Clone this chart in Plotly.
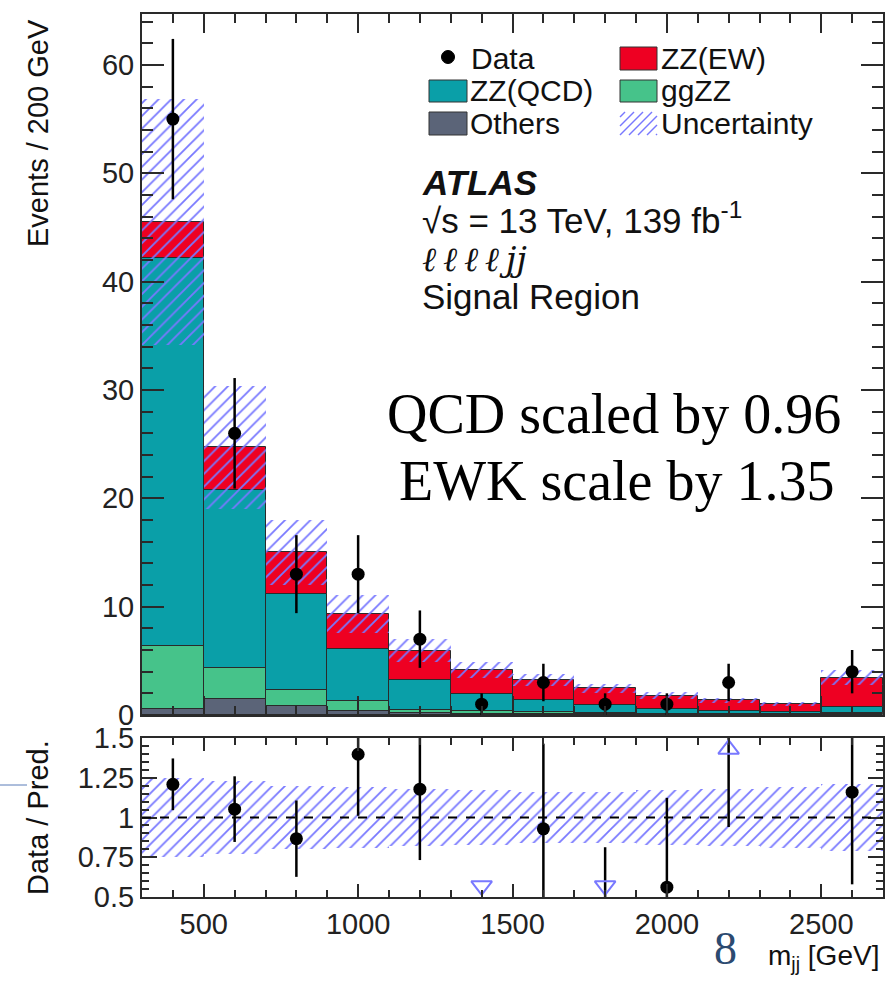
import numpy as np
import plotly.graph_objects as go

# ---------------- data ----------------
mjj_centers = [400, 600, 800, 1000, 1200, 1400, 1600, 1800, 2000, 2200, 2400, 2600]
bin_width = 200
others = [0.55, 1.45, 0.85, 0.40, 0.15, 0.10, 0.08, 0.05, 0.04, 0.03, 0.02, 0.05]
ggzz = [5.85, 2.85, 1.45, 0.86, 0.35, 0.25, 0.20, 0.12, 0.08, 0.05, 0.04, 0.10]
zz_qcd = [35.8, 16.5, 8.9, 4.8, 2.73, 1.60, 1.10, 0.75, 0.43, 0.32, 0.24, 0.62]
zz_ew = [3.3, 3.9, 3.8, 3.24, 2.71, 2.20, 1.85, 1.54, 1.23, 0.95, 0.68, 2.68]
unc_rel = [0.25, 0.23, 0.20, 0.19, 0.18, 0.17, 0.16, 0.16, 0.17, 0.18, 0.19, 0.21]
data = [55, 26, 13, 13, 7, 1, 3, 1, 1, 3, None, 4]
data_err = [7.4, 5.1, 3.6, 3.6, 2.65, 1.0, 1.73, 1.0, 1.0, 1.73, None, 2.0]

x_ticks_ratio = [500, 1000, 1500, 2000, 2500]
ratio_tickvals = [0.5, 0.75, 1.0, 1.25, 1.5]
ratio_ticktext = ["0.5", "0.75", "1", "1.25", "1.5"]

# ---------------- styling ----------------
W, H = 886, 983
C_EW = "#ee0022"
C_QCD = "#0a9fa8"
C_GG = "#46c38a"
C_OTH = "#5b6478"
C_HATCH = "#7878ff"
EDGE = "#2a2a2a"
SANS = "Liberation Sans, Arial, sans-serif"
SERIF = "Liberation Serif, Times New Roman, serif"
TICKSIZE = 29


def px(x):
    return x / W


def py(y):
    return 1 - y / H


o = np.array(others)
g = np.array(ggzz)
q = np.array(zz_qcd)
e = np.array(zz_ew)
total = o + g + q + e
rel = np.array(unc_rel)
unc = total * rel

fig = go.Figure()

# stacked components (overlay with explicit bases)
layers = [
    ("Others", o, np.zeros_like(o), C_OTH),
    ("ggZZ", g, o, C_GG),
    ("ZZ(QCD)", q, o + g, C_QCD),
    ("ZZ(EW)", e, o + g + q, C_EW),
]
for name, h, b, col in layers:
    fig.add_trace(go.Bar(
        x=mjj_centers, y=h, base=b, width=bin_width, name=name,
        marker=dict(color=col, line=dict(color=EDGE, width=1)),
        showlegend=False, xaxis="x", yaxis="y",
    ))

hatch = dict(shape="/", fgcolor=C_HATCH, bgcolor="rgba(0,0,0,0)",
             size=9, solidity=0.2, fillmode="replace")

# uncertainty hatch, top panel
fig.add_trace(go.Bar(
    x=mjj_centers, y=2 * unc, base=total - unc, width=bin_width,
    marker=dict(color="rgba(0,0,0,0)", line=dict(width=0), pattern=hatch),
    showlegend=False, xaxis="x", yaxis="y",
))

# data points
dx = [c for c, d in zip(mjj_centers, data) if d is not None]
dy = [d for d in data if d is not None]
de = [s for s, d in zip(data_err, data) if d is not None]
fig.add_trace(go.Scatter(
    x=dx, y=dy, mode="markers",
    marker=dict(color="black", size=13),
    error_y=dict(type="data", array=de, arrayminus=de, thickness=2.5, width=0, color="black"),
    showlegend=False, xaxis="x", yaxis="y",
))

# ratio band
fig.add_trace(go.Bar(
    x=mjj_centers, y=2 * rel, base=1 - rel, width=bin_width,
    marker=dict(color="rgba(0,0,0,0)", line=dict(width=0), pattern=hatch),
    showlegend=False, xaxis="x2", yaxis="y2",
))

# ratio points
rx, ry, re_ = [], [], []
down_x, up_x = [], []
for c, d, s, t in zip(mjj_centers, data, data_err, total):
    if d is None:
        continue
    r = d / t
    rx.append(c)
    ry.append(r)
    re_.append(s / t)
    if r < 0.5:
        down_x.append(c)
    elif r > 1.5:
        up_x.append(c)

fig.add_trace(go.Scatter(
    x=rx, y=ry, mode="markers",
    marker=dict(color="black", size=13),
    error_y=dict(type="data", array=re_, arrayminus=re_, thickness=2.5, width=0, color="black"),
    showlegend=False, xaxis="x2", yaxis="y2", cliponaxis=True,
))
fig.add_trace(go.Scatter(
    x=down_x, y=[0.57] * len(down_x), mode="markers",
    marker=dict(symbol="triangle-down-open", size=18, color=C_HATCH, line=dict(width=2, color=C_HATCH)),
    showlegend=False, xaxis="x2", yaxis="y2",
))
fig.add_trace(go.Scatter(
    x=up_x, y=[1.43] * len(up_x), mode="markers",
    marker=dict(symbol="triangle-up-open", size=18, color=C_HATCH, line=dict(width=2, color=C_HATCH)),
    showlegend=False, xaxis="x2", yaxis="y2",
))

# ---------------- axes ----------------
xdom = [px(142), px(883)]
top_dom = [py(715), py(14)]
bot_dom = [py(897), py(738)]

axis_common = dict(showline=True, linecolor=EDGE, linewidth=2, mirror="allticks",
                   showgrid=False, zeroline=False, ticks="inside", tickcolor=EDGE,
                   tickwidth=1.5, automargin=False)

fig.update_layout(
    width=W, height=H,
    margin=dict(l=0, r=0, t=0, b=0, pad=0, autoexpand=False),
    paper_bgcolor="white", plot_bgcolor="white",
    barmode="overlay", bargap=0,
    font=dict(family=SANS, size=28, color="#1a1a1a"),
    xaxis=dict(domain=xdom, anchor="y", range=[300, 2700], tick0=0, dtick=500,
               ticklen=19, showticklabels=False,
               minor=dict(dtick=100, ticklen=9, ticks="inside", tickcolor=EDGE, tickwidth=1.5),
               **axis_common),
    yaxis=dict(domain=top_dom, anchor="x", range=[0, 64.7], tick0=0, dtick=10,
               ticklen=22, tickfont=dict(size=TICKSIZE, color="#222"),
               minor=dict(dtick=2, ticklen=11, ticks="inside", tickcolor=EDGE, tickwidth=1.5),
               **axis_common),
    xaxis2=dict(domain=xdom, anchor="y2", range=[300, 2700], tickvals=x_ticks_ratio,
                ticklen=13, tickfont=dict(size=TICKSIZE, color="#222"),
                minor=dict(dtick=100, tick0=0, ticklen=7, ticks="inside", tickcolor=EDGE, tickwidth=1.5),
                **axis_common),
    yaxis2=dict(domain=bot_dom, anchor="x2", range=[0.5, 1.5], tickvals=ratio_tickvals,
                ticktext=ratio_ticktext, ticklen=15, tickfont=dict(size=TICKSIZE, color="#222"),
                minor=dict(tickmode="linear", tick0=0.5, dtick=0.05, ticklen=7, ticks="inside",
                           tickcolor=EDGE, tickwidth=1.5),
                **axis_common),
)

shapes = []
# dashed unity line in ratio panel
shapes.append(dict(type="line", xref="x2 domain", yref="y2", x0=0, x1=1, y0=1, y1=1,
                   line=dict(color="black", width=2, dash="dash")))
# stray slide line at left
shapes.append(dict(type="line", xref="paper", yref="paper", x0=0, x1=px(27), y0=py(785), y1=py(785),
                   line=dict(color="#5a7cb8", width=1)))


# legend swatches
def rect(x0, y0, x1, y1, col):
    return dict(type="rect", xref="paper", yref="paper", x0=px(x0), x1=px(x1), y0=py(y1), y1=py(y0),
                fillcolor=col, line=dict(color="#333", width=1))


shapes.append(rect(620, 47, 657, 70, C_EW))
shapes.append(rect(429, 80, 467, 102, C_QCD))
shapes.append(rect(620, 80, 657, 102, C_GG))
shapes.append(rect(429, 112, 467, 135, C_OTH))
# data legend marker
shapes.append(dict(type="circle", xref="paper", yref="paper", x0=px(441.5), x1=px(454.5),
                   y0=py(63.5), y1=py(50.5), fillcolor="black", line=dict(color="black", width=1)))
# hatch swatch
bx0, by0, bx1, by1 = 620, 112, 657, 135
hgt = by1 - by0
for k in range(-3, 6):
    xs = bx0 + 9 * k
    x_start, y_start = xs, by1
    x_end, y_end = xs + hgt, by0
    if x_start < bx0:
        y_start = by1 - (bx0 - x_start)
        x_start = bx0
    if x_end > bx1:
        y_end = by0 + (x_end - bx1)
        x_end = bx1
    if x_end <= x_start:
        continue
    shapes.append(dict(type="line", xref="paper", yref="paper", x0=px(x_start), y0=py(y_start),
                       x1=px(x_end), y1=py(y_end), line=dict(color=C_HATCH, width=1.5)))
fig.update_layout(shapes=shapes)

ann = []


def text(x, y, s, size=28, xanchor="left", font=SANS, color="#111", angle=0, yanchor="middle"):
    ann.append(dict(x=px(x), y=py(y), xref="paper", yref="paper", text=s, showarrow=False,
                    xanchor=xanchor, yanchor=yanchor, textangle=angle,
                    font=dict(family=font, size=size, color=color)))


LEG = 30
text(469, 58, "Data", LEG)
text(659, 58, "ZZ(EW)", LEG)
text(468, 91, "ZZ(QCD)", LEG)
text(659, 91, "ggZZ", LEG)
text(468, 124, "Others", LEG)
text(659, 124, "Uncertainty", LEG)

text(420, 182, "<b><i>ATLAS</i></b>", 35)
text(420, 218, "√s = 13 TeV, 139 fb<sup>-1</sup>", 35)
text(420, 259, "<i>ℓ\u2009ℓ\u2009ℓ\u2009ℓ\u2009jj</i>", 34, font="DejaVu Serif, serif")
text(420, 296, "Signal Region", 35)

text(614, 414, "QCD scaled by 0.96", 56, xanchor="center", font=SERIF, color="#000")
text(616, 481, "EWK scale by 1.35", 56, xanchor="center", font=SERIF, color="#000")

text(38, 133, "Events / 200 GeV", 29, xanchor="center", angle=-90)
text(38, 818, "Data / Pred.", 29, xanchor="center", angle=-90)
text(881, 957, "m<sub>jj</sub> [GeV]", 28, xanchor="right")
text(725, 948, "8", 46, xanchor="center", font=SERIF, color="#2c4a70")

fig.update_layout(annotations=ann)

fig.write_html("out.html", config={"displayModeBar": False},
               post_script="document.body.style.margin='0';document.body.style.overflow='hidden';")
